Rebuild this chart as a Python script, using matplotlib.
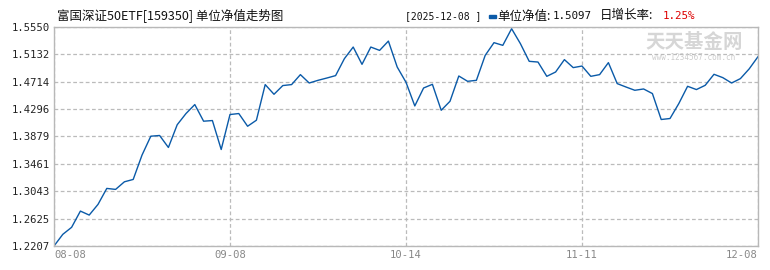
import numpy as np
import matplotlib
matplotlib.use("Agg")
import matplotlib.pyplot as plt

plt.rcParams['font.family'] = ['Noto Sans CJK SC', 'DejaVu Sans']

# Unit NAV, one value per trading day, 2025-08-08 .. 2025-12-08
nav = [1.2207, 1.2385, 1.2492, 1.2740, 1.2679, 1.2842, 1.3086, 1.3071, 1.3187, 1.3223,
       1.3594, 1.3883, 1.3894, 1.3711, 1.4058, 1.4229, 1.4366, 1.4112, 1.4122, 1.3680,
       1.4214, 1.4229, 1.4035, 1.4127, 1.4671, 1.4523, 1.4656, 1.4671, 1.4823, 1.4695,
       1.4736, 1.4771, 1.4808, 1.5067, 1.5244, 1.4980, 1.5244, 1.5193, 1.5335, 1.4939,
       1.4706, 1.4345, 1.4619, 1.4675, 1.4279, 1.4416, 1.4802, 1.4721, 1.4736, 1.5117,
       1.5311, 1.5270, 1.5524, 1.5296, 1.5026, 1.5015, 1.4797, 1.4863, 1.5052, 1.4930,
       1.4954, 1.4797, 1.4823, 1.5006, 1.4686, 1.4634, 1.4584, 1.4604, 1.4534, 1.4138,
       1.4153, 1.4381, 1.4645, 1.4595, 1.4660, 1.4828, 1.4777, 1.4695, 1.4762, 1.4911,
       1.5097]

x_tick_pos = [0, 20, 40, 60, 80]
x_tick_labels = ['08-08', '09-08', '10-14', '11-11', '12-08']
y_ticks = [1.2207, 1.2625, 1.3043, 1.3461, 1.3879, 1.4296, 1.4714, 1.5132, 1.5550]
y_tick_labels = ['1.2207', '1.2625', '1.3043', '1.3461', '1.3879', '1.4296', '1.4714', '1.5132', '1.5550']

title = '富国深证50ETF[159350] 单位净值走势图'
last_date = '[2025-12-08 ]'
last_nav = '1.5097'
last_rate = '1.25%'

W, H = 770, 270
fig = plt.figure(figsize=(W / 100, H / 100), dpi=100)

# plot area in pixels: left 54, right 758, top 27, bottom 246
left, right, top, bottom = 54, 758, 27, 246
ax = fig.add_axes([left / W, 1 - bottom / H, (right - left) / W, (bottom - top) / H])

ax.plot(range(len(nav)), nav, color='#0a5aa8', linewidth=1.0)

ax.set_xlim(0, len(nav) - 1)
ax.set_ylim(y_ticks[0], y_ticks[-1])
ax.set_yticks(y_ticks)
ax.set_yticklabels(y_tick_labels, family='DejaVu Sans Mono', fontsize=7.6, color='#222222')
ax.set_xticks(x_tick_pos)
ax.set_xticklabels(x_tick_labels, family='DejaVu Sans Mono', fontsize=7.6, color='#888888')
xl = ax.get_xticklabels()
xl[0].set_ha('left')
xl[-1].set_ha('right')
ax.tick_params(length=0, pad=3)

ax.grid(True, color='#bbbbbb', linestyle=(0, (3, 2)), linewidth=0.9)
for s in ax.spines.values():
    s.set_color('#b8b8b8')
    s.set_linewidth(1.0)

def px(x, y):
    return x / W, 1 - y / H

# title and latest value line
fig.text(*px(57, 16), title, fontsize=9, va='center', ha='left', color='#111111')
fig.text(*px(405, 16), last_date, fontsize=7.0, va='center', ha='left', color='#111111',
         family=['DejaVu Sans Mono', 'Noto Sans CJK SC'])
fig.patches.append(plt.Rectangle(px(489, 17.5), 7 / W, 3 / H, color='#0a5aa8',
                                 transform=fig.transFigure, figure=fig))
fig.text(*px(497, 16), '单位净值:', fontsize=9, va='center', ha='left', color='#111111')
fig.text(*px(553, 16), last_nav, fontsize=7.8, va='center', ha='left', color='#111111',
         family='DejaVu Sans Mono')
fig.text(*px(600, 16), '日增长率:', fontsize=9, va='center', ha='left', color='#111111')
fig.text(*px(663, 16), last_rate, fontsize=7.8, va='center', ha='left', color='#dd0000',
         family='DejaVu Sans Mono')

# watermark
fig.text(*px(694, 42), '天天基金网', fontsize=14, va='center', ha='center', color='#d6d6d6',
         fontweight='bold')
fig.text(*px(694, 58), 'www.1234567.com.cn', fontsize=5.5, va='center', ha='center',
         color='#cccccc', family='DejaVu Sans Mono')

fig.savefig('out.png', dpi=100)
